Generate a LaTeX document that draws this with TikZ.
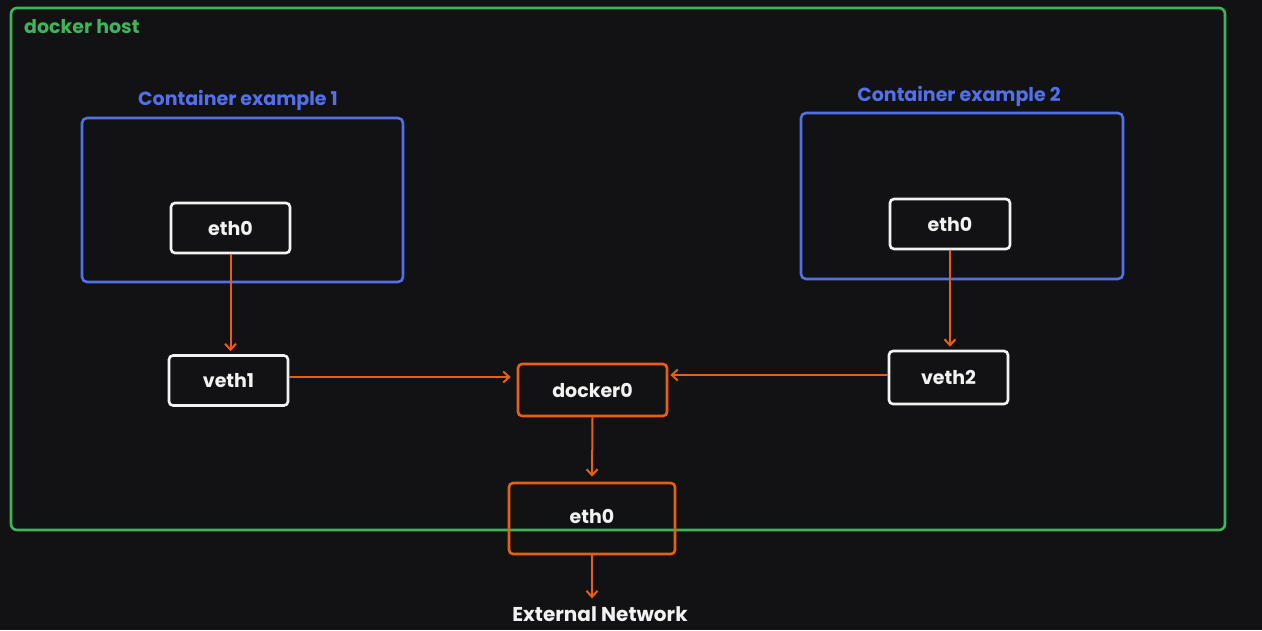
\documentclass[tikz,border=0pt]{standalone}
\usepackage{fontspec}
\setmainfont{Poppins}
\usetikzlibrary{arrows.meta}
\definecolor{bgc}{HTML}{121214}
\definecolor{hostgreen}{HTML}{40B45A}
\definecolor{ctblue}{HTML}{5170EA}
\definecolor{netorange}{HTML}{E8600F}
\definecolor{boxwhite}{HTML}{F2F2F2}
\tikzset{
  lblfont/.style={font=\fontsize{19}{23}\selectfont\bfseries},
  whitebox/.style={draw=boxwhite, line width=2.6pt, rounded corners=4pt, text=boxwhite, lblfont, inner sep=0pt},
  orangebox/.style={draw=netorange, line width=2.6pt, rounded corners=4pt, text=boxwhite, lblfont, inner sep=0pt},
  ctbox/.style={draw=ctblue, line width=2.6pt, rounded corners=5pt, inner sep=0pt},
  ctlabel/.style={text=ctblue, lblfont, inner sep=0pt},
  link/.style={draw=netorange, line width=2pt, -{Straight Barb[length=6pt,width=11pt,line width=2pt]}},
}
\begin{document}
\begin{tikzpicture}[x=1pt,y=-1pt]
\useasboundingbox (0,0) rectangle (1262,630);
\fill[bgc] (0,0) rectangle (1262,630);
% docker host
\node[draw=hostgreen, line width=2.6pt, rounded corners=6pt, minimum width=1214pt, minimum height=522pt, inner sep=0pt] (host) at (618,269) {};
\node[anchor=west, text=hostgreen, lblfont, inner sep=0pt] (hostlabel) at (24,27) {docker host};
% containers
\node[ctbox, minimum width=321pt, minimum height=164pt] (ct1) at (242.5,200) {};
\node[ctlabel] (ct1label) at (238,100) {Container example 1};
\node[ctbox, minimum width=322pt, minimum height=166pt] (ct2) at (962,196) {};
\node[ctlabel] (ct2label) at (959,96) {Container example 2};
% interfaces
\node[whitebox, minimum width=119pt, minimum height=50pt] (eth1) at (230.5,228) {eth0};
\node[whitebox, minimum width=119pt, minimum height=50pt] (veth1) at (228.5,380.5) {veth1};
\node[whitebox, minimum width=120pt, minimum height=50pt] (eth2) at (950,224) {eth0};
\node[whitebox, minimum width=119pt, minimum height=53pt] (veth2) at (948.5,377.5) {veth2};
\node[orangebox, minimum width=149pt, minimum height=52pt] (docker0) at (592.5,390) {docker0};
\node[orangebox, minimum width=166pt, minimum height=71pt, text depth=0pt] (ethh) at (592,518.5) {\raisebox{5pt}{eth0}};
\node[text=boxwhite, font=\fontsize{20}{24}\selectfont\bfseries, inner sep=0pt] (ext) at (600,614) {External Network};
% connectors
\draw[link, shorten >=3pt] (eth1.south) -- (veth1.north -| eth1.south);
\draw[link, shorten >=3pt] (eth2.south) -- (veth2.north -| eth2.south);
\draw[link, shorten >=6pt] ([yshift=3.5pt]veth1.east) -- ([yshift=3.5pt]veth1.east -| docker0.west);
\draw[link, shorten >=2pt] ([yshift=2.5pt]veth2.west) -- ([yshift=2.5pt]veth2.west -| docker0.east);
\draw[link, shorten >=5pt] (docker0.south) -- (ethh.north);
\draw[link, shorten >=8pt] (ethh.south) -- (ethh.south |- ext.north);
\end{tikzpicture}
\end{document}
